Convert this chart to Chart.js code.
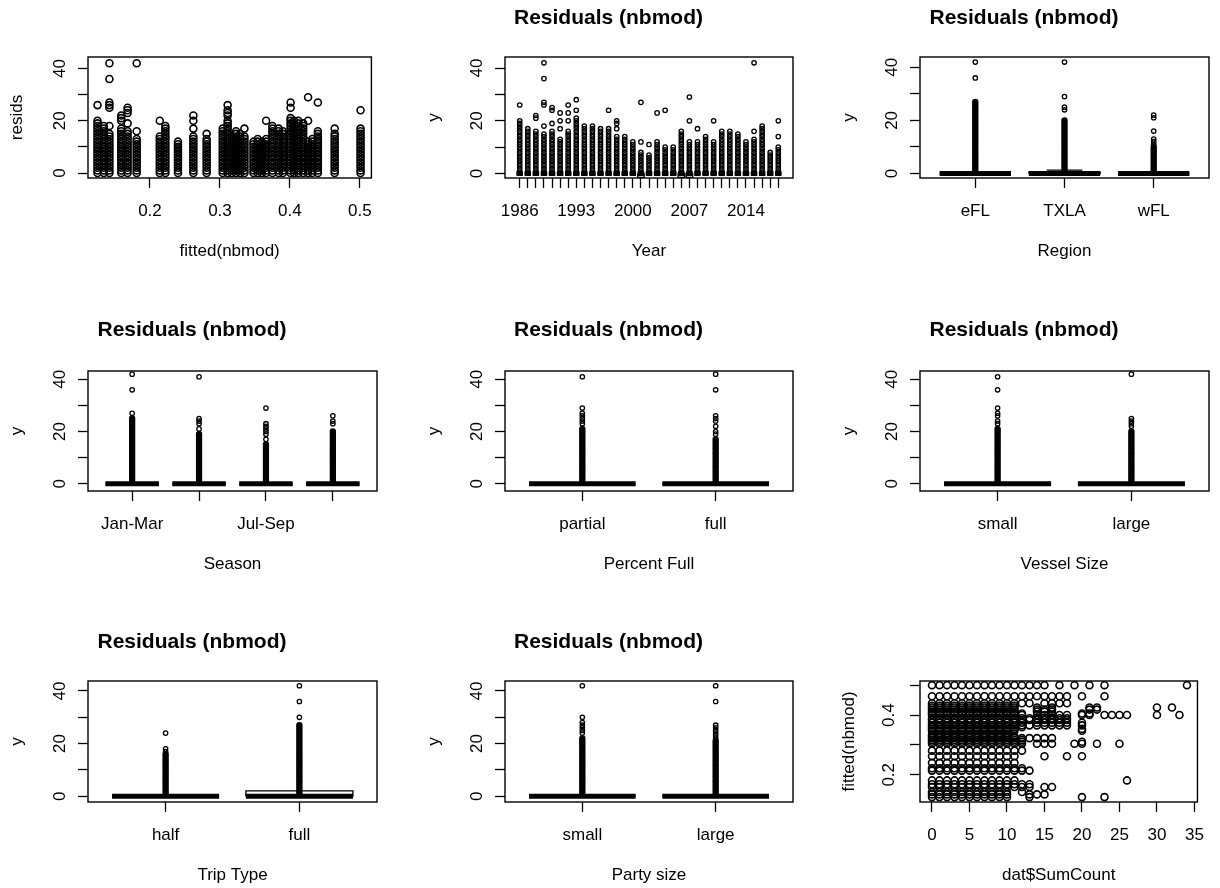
<!DOCTYPE html>
<html><head><meta charset="utf-8">
<script src="https://cdn.jsdelivr.net/npm/chart.js@4.4.0/dist/chart.umd.min.js"></script>
<style>
html,body{margin:0;padding:0;background:#fff;overflow:hidden;width:1220px;height:888px;position:relative;}
canvas{position:absolute;}
</style></head><body>
<script>
// ---------------- DATA ----------------
// Panel 1 / Panel 9: discrete fitted values of the model
const fittedLevels = [0.125,0.134,0.142,0.159,0.168,0.181,0.214,0.222,0.240,0.262,0.281,0.304,0.311,0.317,0.323,0.329,0.335,0.348,0.354,0.360,0.366,0.375,0.384,0.390,0.401,0.406,0.412,0.419,0.426,0.432,0.440,0.464,0.501];
// residuals: every count from 0 up to residMax is present in the column, plus residExtra
const residMax   = [20,18,15,17,16,13,14,18,12,14,13,16,20,14,16,15,14,12,13,12,13,18,17,16,21,20,20,19,12,13,16,15,17];
const residExtra = [[26],[],[18,25,26,27,36,42],[20,21,22],[19,23,24,25],[16,42],[20],[],[],[17,20,22],[15],[17],[22,23,24,26],[],[],[],[17],[],[],[],[20],[],[],[],[25,27],[],[],[],[20,29],[],[27],[17],[24]];
// SumCount: every count from 0 up to countMax is present in the row, plus countExtra
const countMax   = [10,10,10,11,11,11,13,12,9,11,12,12,12,12,12,11,10,11,11,12,12,12,12,12,12,12,11,11,11,11,13,13,15];
const countExtra = [[13,20,23],[13,14,15],[12],[12,13,15,16],[12,13],[26],[],[],[10,11],[15,18,20],[],[14,15,16,19,20,22,25],[20],[],[13,14,15,16],[],[],[20],[20],[],[13,14,15,16,17,18,20],[14,15,16,17,18,20],[13,14,15,16,17,18],[13,14,15,16,17,18],[14,15,16,17,18,20,21,23,24,25,26,30,33],[20,21],[14,15,16],[14,15,16,21,22],[14,16,21,22,30,32],[],[15,16,17,18],[14,15,16,17,18,20,23],[17,19,21,23,34]];
const fittedTicks = [0.2,0.3,0.4,0.5];
const countTicks = [0,5,10,15,20,25,30,35];
const fitted9Ticks = [0.2,0.3,0.4,0.5];
const fitted9Labels = [0.2,0.4];

// Residual y axis
const yTicks = [0,10,20,30,40];
const yTickLabels = [0,20,40];

// Panel 2: Year
const years = [1986,1987,1988,1989,1990,1991,1992,1993,1994,1995,1996,1997,1998,1999,2000,2001,2002,2003,2004,2005,2006,2007,2008,2009,2010,2011,2012,2013,2014,2015,2016,2017,2018];
const yearTickLabels = [1986,1993,2000,2007,2014];
const yearMax   = [20,17,16,15,16,13,16,21,18,18,17,17,14,14,12,8,7,12,10,10,16,12,12,14,12,16,16,15,12,13,18,8,10];
const yearExtra = [[26],[],[21,22],[18,26,27,36,42],[19,24,25],[17,20,23],[20,23,26],[24,28],[],[],[],[24],[17,19,20],[],[],[12,27],[11],[23],[24],[],[],[20,29],[17],[],[20],[],[],[],[],[16,42],[],[],[14,20]];
const yearMed   = [0,0,0,0,0,0,0,0,0,0,0,0,0,0,0,0,0,0,0,0,0,0,0,0,0,0,0,0,0,0,0,0,0];
const yearBoxLo = [0,0,0,0,0,0,0,0,0,0,0,0,0,0,0,-1.5,0,0,0,0,-1.5,-1.5,0,0,0,0,0,0,0,0,0,0,0];
const yearBoxHi = [0,0,0,0,0,0,0,0,0,0,0,0,0,0,0,0,0,0,0,0,0,0,0,0,0,0,0,0,0,0,0,0,0];

// Panel 3: Region
const regionCats  = ['eFL','TXLA','wFL'];
const regionMax   = [27,20,10];
const regionExtra = [[36,42],[24,25,29,42],[11,12,13,16,21,22]];
const regionMed = [0,0,0], regionLo = [0,0,0], regionHi = [0,0.5,0], regionWhi = [0,1.3,0];

// Panel 4: Season
const seasonCats   = ['Jan-Mar','Apr-Jun','Jul-Sep','Oct-Dec'];
const seasonShown  = ['Jan-Mar','Jul-Sep'];
const seasonMax    = [25,19,15,20];
const seasonExtra  = [[27,36,42],[21,23,24,25,41],[17,19,20,21,22,23,29],[23,24,26]];
const seasonMed = [0,0,0,0], seasonLo = [0,0,0,0], seasonHi = [0,0,0,0], seasonWhi = [0,0,0,0];

// Panel 5: Percent Full
const fullCats  = ['partial','full'];
const fullMax   = [21,17];
const fullExtra = [[23,24,25,26,27,29,41],[19,20,22,24,25,26,36,42]];
const fullMed = [0,0], fullLo = [0,0], fullHi = [0,0], fullWhi = [0,0];

// Panel 6: Vessel Size
const vesselCats  = ['small','large'];
const vesselMax   = [21,20];
const vesselExtra = [[23,24,26,27,29,36,41],[22,23,24,25,42]];
const vesselMed = [0,0], vesselLo = [0,0], vesselHi = [0,0], vesselWhi = [0,0];

// Panel 7: Trip Type
const tripCats  = ['half','full'];
const tripMax   = [16,27];
const tripExtra = [[17,18,24],[30,36,42]];
const tripMed = [0,0], tripLo = [0,0], tripHi = [0,2], tripWhi = [0,2];

// Panel 8: Party size
const partyCats  = ['small','large'];
const partyMax   = [22,21];
const partyExtra = [[24,25,26,27,28,30,42],[22,23,24,25,26,27,36,42]];
const partyMed = [0,0], partyLo = [0,0], partyHi = [0,0], partyWhi = [0,0];

// ---------------- LAYOUT / STYLE ----------------
const FONT = "'Liberation Sans', Arial, sans-serif";
const COLS = [{L:88,W:289},{L:505,W:288},{L:920,W:289}];
const ROWS = [{T:57,H:121,tp:6},{T:371,H:120,tp:4},{T:681,H:121,tp:6}];
const CW = 385, CH = 264, YW = 81, XH = 84, TITLE_SIZE = 21;

const framePlugin = {
  id: 'frame',
  afterDraw(chart) {
    const a = chart.chartArea, ctx = chart.ctx;
    ctx.save();
    ctx.strokeStyle = '#000'; ctx.lineWidth = 1.4;
    ctx.strokeRect(a.left, a.top, a.right - a.left, a.bottom - a.top);
    ctx.restore();
  }
};

function pts(list, r, bw, filled) {
  return { data: list, showLine: false, pointStyle: 'circle', pointRadius: r, pointHoverRadius: r,
    pointBorderWidth: bw, borderColor: '#000', backgroundColor: filled ? '#000' : 'rgba(0,0,0,0)',
    pointBorderColor: '#000', pointBackgroundColor: filled ? '#000' : 'rgba(0,0,0,0)' };
}
function line(list, w, dash) {
  return { data: list, showLine: true, spanGaps: false, pointRadius: 0, pointHoverRadius: 0,
    borderColor: '#000', borderWidth: w, borderDash: dash || [], fill: false, tension: 0 };
}
function boxDatasets(med, lo, hi, whi) {
  const half = 0.4;
  const rect = [], medl = [], wh = [], st = [];
  med.forEach((m, i) => {
    const c = i + 1;
    rect.push({x:c-half,y:lo[i]},{x:c+half,y:lo[i]},{x:c+half,y:hi[i]},{x:c-half,y:hi[i]},{x:c-half,y:lo[i]},{x:c,y:null});
    medl.push({x:c-half,y:m},{x:c+half,y:m},{x:c,y:null});
    if (whi[i] > hi[i]) {
      wh.push({x:c,y:hi[i]},{x:c,y:whi[i]},{x:c,y:null});
      st.push({x:c-half/2,y:whi[i]},{x:c+half/2,y:whi[i]},{x:c,y:null});
    }
  });
  return [line(rect,1.3), line(medl,5), line(wh,1.2,[4,3]), line(st,1.3)];
}
function outlierPoints(maxArr, extraArr, filledDense) {
  const dense = [], extra = [];
  maxArr.forEach((mx, i) => {
    for (let v = 1; v <= mx; v++) dense.push({x:i+1, y:v});
    extraArr[i].forEach(v => extra.push({x:i+1, y:v}));
  });
  return filledDense
    ? [pts(dense, 2.6, 1.2, true), pts(extra, 2.2, 1.3, false)]
    : [pts(dense, 2.2, 1.3, false), pts(extra, 2.2, 1.3, false)];
}
function catRange(n) { return {min: 0.5 - 0.04*n, max: n + 0.5 + 0.04*n}; }
function catTicks(n) { const t = []; for (let i = 1; i <= n; i++) t.push(i); return t; }

function makeChart(o) {
  const C = COLS[o.col], R = ROWS[o.row];
  const cv = document.createElement('canvas');
  cv.width = CW; cv.height = CH;
  cv.style.left = (C.L - 88) + 'px'; cv.style.top = (R.T - 57) + 'px';
  cv.style.width = CW + 'px'; cv.style.height = CH + 'px';
  document.body.appendChild(cv);
  const titleLH = TITLE_SIZE * 1.2;
  new Chart(cv, {
    type: 'scatter',
    data: { datasets: o.datasets },
    options: {
      responsive: false, animation: false, devicePixelRatio: 1, events: [],
      layout: { padding: { left: 88 - YW, right: CW - 88 - C.W, top: o.title ? 0 : 57, bottom: CH - 57 - R.H - XH } },
      plugins: {
        legend: { display: false }, tooltip: { enabled: false },
        title: { display: !!o.title, text: o.title || '', color: '#000',
          font: { size: TITLE_SIZE, weight: 'bold', family: FONT, lineHeight: 1.2 },
          padding: { top: R.tp, bottom: 57 - titleLH - R.tp } }
      },
      scales: {
        x: {
          type: 'linear', position: 'bottom', min: o.x.min, max: o.x.max,
          afterBuildTicks: s => { s.ticks = o.x.ticks.map(v => ({ value: v })); },
          afterFit: s => { s.height = XH; },
          grid: { display: true, drawOnChartArea: false, drawTicks: true, tickLength: 10, tickColor: '#000', tickWidth: 1.3 },
          border: { display: false },
          ticks: { autoSkip: false, maxRotation: 0, minRotation: 0, padding: 13, color: '#000',
            font: { size: 17, family: FONT }, callback: o.x.label },
          title: { display: true, text: o.xTitle, color: '#000', font: { size: 17, family: FONT }, padding: 0 }
        },
        y: {
          type: 'linear', position: 'left', min: o.y.min, max: o.y.max,
          afterBuildTicks: s => { s.ticks = o.y.ticks.map(v => ({ value: v })); },
          afterFit: s => { s.width = YW; },
          grid: { display: true, drawOnChartArea: false, drawTicks: true, tickLength: 10, tickColor: '#000', tickWidth: 1.3 },
          border: { display: false },
          ticks: { autoSkip: false, minRotation: 90, maxRotation: 90, crossAlign: 'center', padding: 8.5, color: '#000',
            font: { size: 17, family: FONT }, callback: o.y.label },
          title: { display: true, text: o.yTitle, color: '#000', font: { size: 17, family: FONT }, padding: 0 }
        }
      }
    },
    plugins: [framePlugin]
  });
}

const residLabel = v => (yTickLabels.includes(v) ? String(v) : '');
const catLabel = (cats, shown) => v => { const c = cats[v - 1]; return (!shown || shown.includes(c)) ? c : ''; };
const TITLE = 'Residuals (nbmod)';

// ---------- Panel 1: resids vs fitted ----------
const p1 = [];
fittedLevels.forEach((f, i) => {
  for (let v = 0; v <= residMax[i]; v++) p1.push({ x: f, y: v });
  residExtra[i].forEach(v => p1.push({ x: f, y: v }));
});
makeChart({ row: 0, col: 0, xTitle: 'fitted(nbmod)', yTitle: 'resids',
  x: { min: 0.1114, max: 0.5165, ticks: fittedTicks, label: v => String(v) },
  y: { min: -1.9, max: 44.4, ticks: yTicks, label: residLabel },
  datasets: [pts(p1, 3.5, 1.6, false)] });

// ---------- Panel 2: Year ----------
{
  const n = years.length, r = catRange(n);
  makeChart({ row: 0, col: 1, title: TITLE, xTitle: 'Year', yTitle: 'y',
    x: { min: r.min, max: r.max, ticks: catTicks(n), label: v => (yearTickLabels.includes(years[v - 1]) ? String(years[v - 1]) : '') },
    y: { min: -1.7, max: 44.2, ticks: yTicks, label: residLabel },
    datasets: [...outlierPoints(yearMax, yearExtra, false), ...boxDatasets(yearMed, yearBoxLo, yearBoxHi, yearBoxHi)] });
}

// ---------- Boxplot-style panels ----------
function boxPanel(row, col, cats, shown, mx, ex, med, lo, hi, whi, xTitle, yr) {
  const n = cats.length, r = catRange(n);
  makeChart({ row, col, title: TITLE, xTitle, yTitle: 'y',
    x: { min: r.min, max: r.max, ticks: catTicks(n), label: catLabel(cats, shown) },
    y: { min: yr[0], max: yr[1], ticks: yTicks, label: residLabel },
    datasets: [...outlierPoints(mx, ex, true), ...boxDatasets(med, lo, hi, whi)] });
}
boxPanel(0, 2, regionCats, null, regionMax, regionExtra, regionMed, regionLo, regionHi, regionWhi, 'Region', [-1.7, 43.9]);
boxPanel(1, 0, seasonCats, seasonShown, seasonMax, seasonExtra, seasonMed, seasonLo, seasonHi, seasonWhi, 'Season', [-2.8, 43.2]);
boxPanel(1, 1, fullCats, null, fullMax, fullExtra, fullMed, fullLo, fullHi, fullWhi, 'Percent Full', [-2.8, 43.2]);
boxPanel(1, 2, vesselCats, null, vesselMax, vesselExtra, vesselMed, vesselLo, vesselHi, vesselWhi, 'Vessel Size', [-2.8, 43.2]);
boxPanel(2, 0, tripCats, null, tripMax, tripExtra, tripMed, tripLo, tripHi, tripWhi, 'Trip Type', [-2.2, 43.8]);
boxPanel(2, 1, partyCats, null, partyMax, partyExtra, partyMed, partyLo, partyHi, partyWhi, 'Party size', [-2.2, 43.8]);

// ---------- Panel 9: fitted vs SumCount ----------
const p9 = [];
fittedLevels.forEach((f, i) => {
  for (let c = 0; c <= countMax[i]; c++) p9.push({ x: c, y: f });
  countExtra[i].forEach(c => p9.push({ x: c, y: f }));
});
makeChart({ row: 2, col: 2, xTitle: 'dat$SumCount', yTitle: 'fitted(nbmod)',
  x: { min: -1.6, max: 35.4, ticks: countTicks, label: v => String(v) },
  y: { min: 0.1085, max: 0.515, ticks: fitted9Ticks, label: v => (fitted9Labels.includes(v) ? String(v) : '') },
  datasets: [pts(p9, 3.5, 1.6, false)] });
</script>
</body></html>
